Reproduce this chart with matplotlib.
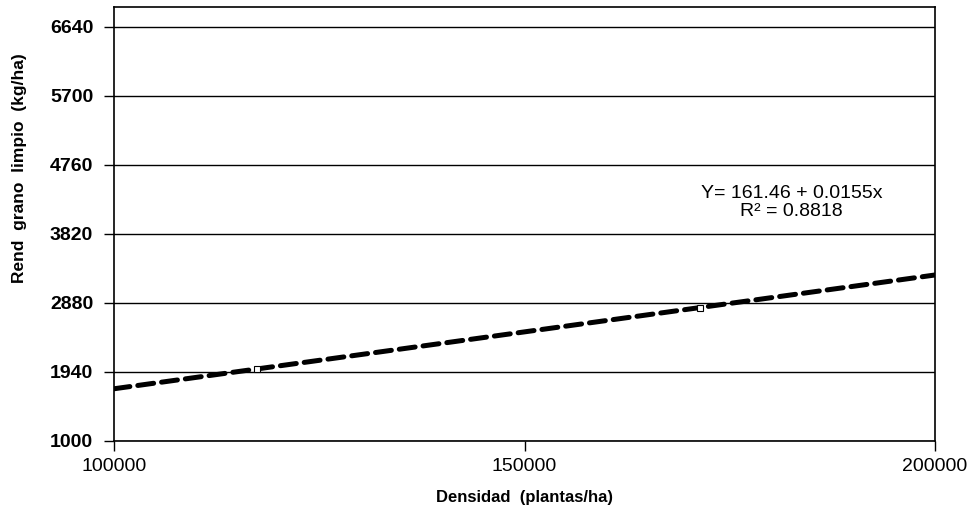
import numpy as np
import matplotlib
matplotlib.use("Agg")
import matplotlib.pyplot as plt

plt.rcParams["font.family"] = ["Liberation Sans", "DejaVu Sans"]

# regression fit: rendimiento vs densidad
intercept = 161.46
slope = 0.0155
r2 = 0.8818
x_range = [100000, 200000]

# observed points that sit on the fitted line
obs_x = [117400, 171400]
obs_y = [1981, 2818]

y_ticks = [1000, 1940, 2880, 3820, 4760, 5700, 6640]
x_ticks = [100000, 150000, 200000]

fig = plt.figure(figsize=(9.77, 5.11), dpi=100)
ax = fig.add_axes([0.1167, 0.137, 0.8403, 0.849])

xs = np.array(x_range, dtype=float)
ax.plot(xs, intercept + slope * xs, color="black", lw=3.6,
        linestyle=(0, (3.2, 1.6)), solid_capstyle="round",
        dash_capstyle="round", zorder=3)
ax.plot(obs_x, obs_y, linestyle="none", marker="s", ms=4, mfc="white",
        mec="black", mew=0.8, zorder=4)

ax.set_xlim(x_range)
ax.set_ylim(1000, 6910)
ax.set_yticks(y_ticks)
ax.set_xticks(x_ticks)
ax.set_yticklabels([str(v) for v in y_ticks], fontsize=14, fontweight="bold")
ax.set_xticklabels([str(v) for v in x_ticks], fontsize=14)
ax.yaxis.grid(True, color="black", lw=1.0)
ax.set_axisbelow(True)
ax.tick_params(axis="y", direction="out", length=7, width=1, pad=8)
ax.tick_params(axis="x", direction="out", length=7, width=1, pad=5)
for sp in ax.spines.values():
    sp.set_linewidth(1.2)

ax.set_xlabel("Densidad  (plantas/ha)", fontsize=12, fontweight="bold", labelpad=11)
ax.set_ylabel("Rend  grano  limpio  (kg/ha)", fontsize=12.5, fontweight="bold")
ax.yaxis.set_label_coords(-0.106, 0.629)

# fitted equation and coefficient of determination
ax.text(0.825, 0.571, f"Y= {intercept} + {slope}x", transform=ax.transAxes,
        ha="center", va="center", fontsize=14)
ax.text(0.825, 0.530, f"R² = {r2}", transform=ax.transAxes,
        ha="center", va="center", fontsize=14)

fig.savefig("out.png", dpi=100, facecolor="white")
